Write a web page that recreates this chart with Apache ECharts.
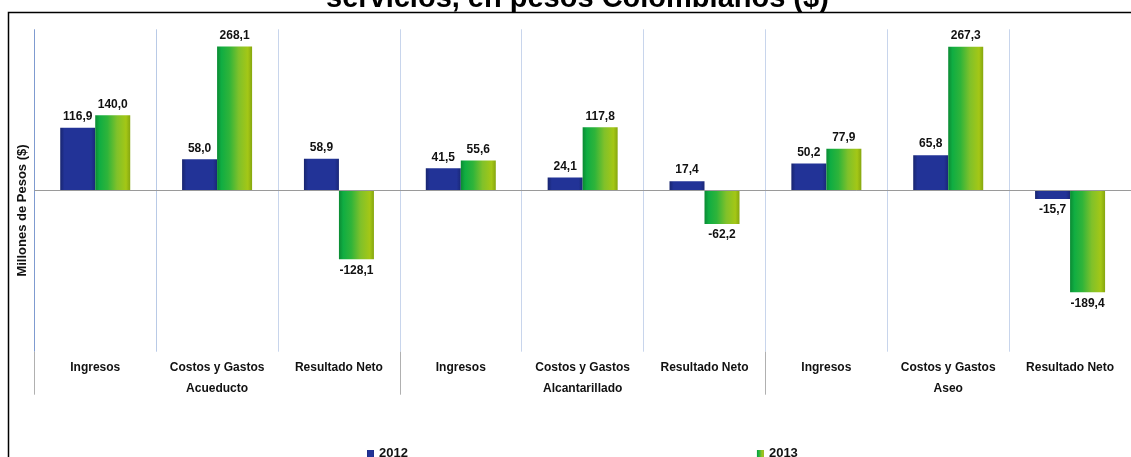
<!DOCTYPE html>
<html>
<head>
<meta charset="utf-8">
<script src="https://cdn.jsdelivr.net/npm/echarts@6/dist/echarts.min.js"></script>
<style>
html,body{margin:0;padding:0;background:#fff;}
#c{width:1131px;height:457px;}
</style>
</head>
<body>
<div id="c"></div>
<script>
const categories = ['Ingresos','Costos y Gastos','Resultado Neto','Ingresos','Costos y Gastos','Resultado Neto','Ingresos','Costos y Gastos','Resultado Neto'];
const groups = ['Acueducto','Alcantarillado','Aseo'];
const seriesNames = ['2012','2013'];
const v2012 = [116.9, 58.0, 58.9, 41.5, 24.1, 17.4, 50.2, 65.8, -15.7];
const v2013 = [140.0, 268.1, -128.1, 55.6, 117.8, -62.2, 77.9, 267.3, -189.4];
const titleText = 'servicios, en pesos Colombianos ($)';
const yName = 'Millones de Pesos ($)';

const FONT = '"Liberation Sans", Arial, sans-serif';
const chart = echarts.init(document.getElementById('c'));

function fmt(v){ return v.toFixed(1).replace('.', ','); }
function items(arr){
  return arr.map(v => ({value: v, label: {position: v < 0 ? 'bottom' : 'top'}}));
}
const blue = new echarts.graphic.LinearGradient(0,0,1,0,[
  {offset:0,color:'#18256f'},{offset:0.12,color:'#223397'},
  {offset:0.88,color:'#223397'},{offset:1,color:'#1a2878'}]);
const green = new echarts.graphic.LinearGradient(0,0,1,0,[
  {offset:0,color:'#0b8a33'},{offset:0.12,color:'#10ad42'},
  {offset:0.35,color:'#2fb43a'},{offset:0.62,color:'#80c12a'},
  {offset:0.88,color:'#a4c716'},{offset:1,color:'#86a60f'}]);

const labelCfg = {show:true, distance:5, color:'#111', fontFamily:FONT, fontWeight:'bold', fontSize:12, formatter: p => fmt(p.value)};

chart.setOption({
  animation:false,
  backgroundColor:'#fff',
  title:{text:titleText, left:321, top:-20.5, textStyle:{fontFamily:FONT, fontWeight:'bold', fontSize:29, color:'#000'}},
  graphic:[{type:'rect', z:-10, silent:true, shape:{x:8.5, y:12.5, width:1200, height:500}, style:{fill:'none', stroke:'#000', lineWidth:1.5}}],
  legend:{data:seriesNames, left:362, top:442, itemWidth:7, itemHeight:7, itemGap:349, icon:'rect',
    textStyle:{fontFamily:FONT, fontWeight:'bold', fontSize:13, color:'#111'}},
  grid:{left:34.3, right:-4.3, top:29.3, bottom:105.3, containLabel:false},
  xAxis:[
    {type:'category', data:categories, position:'bottom',
     axisLine:{show:false, onZero:false}, axisTick:{show:false},
     axisLabel:{interval:0, margin:10, color:'#111', fontFamily:FONT, fontWeight:'bold', fontSize:12},
     splitLine:{show:true, interval:0, lineStyle:{color:['#7f9bd0','#b9cae6','#c8d5ec','#c8d5ec','#c8d5ec','#c8d5ec','#c8d5ec','#c8d5ec','#c8d5ec','#c8d5ec'], width:1}}},
    {type:'category', data:groups, position:'bottom',
     axisLine:{show:false, onZero:false},
     axisTick:{show:true, interval:0, length:43, lineStyle:{color:'#b0b0b0', width:1}},
     axisLabel:{interval:0, margin:31, color:'#111', fontFamily:FONT, fontWeight:'bold', fontSize:12},
     splitLine:{show:false}}
  ],
  yAxis:{type:'value', min:-300, max:300, interval:100,
    axisLine:{show:false}, axisTick:{show:false}, axisLabel:{show:false}, splitLine:{show:false},
    name:yName, nameLocation:'middle', nameGap:5, nameRotate:90,
    nameTextStyle:{fontFamily:FONT, fontWeight:'bold', fontSize:13, color:'#111', padding:[0,40,0,0]}},
  series:[
    {name:seriesNames[0], type:'bar', data:items(v2012), barWidth:35, barGap:'0%',
     itemStyle:{color:blue}, label:labelCfg,
     markLine:{silent:true, symbol:'none', label:{show:false}, lineStyle:{color:'#9a9a9a', width:1, type:'solid'}, data:[{yAxis:0}]}},
    {name:seriesNames[1], type:'bar', data:items(v2013), barWidth:35, barGap:'0%',
     itemStyle:{color:green}, label:labelCfg}
  ]
});
</script>
</body>
</html>
